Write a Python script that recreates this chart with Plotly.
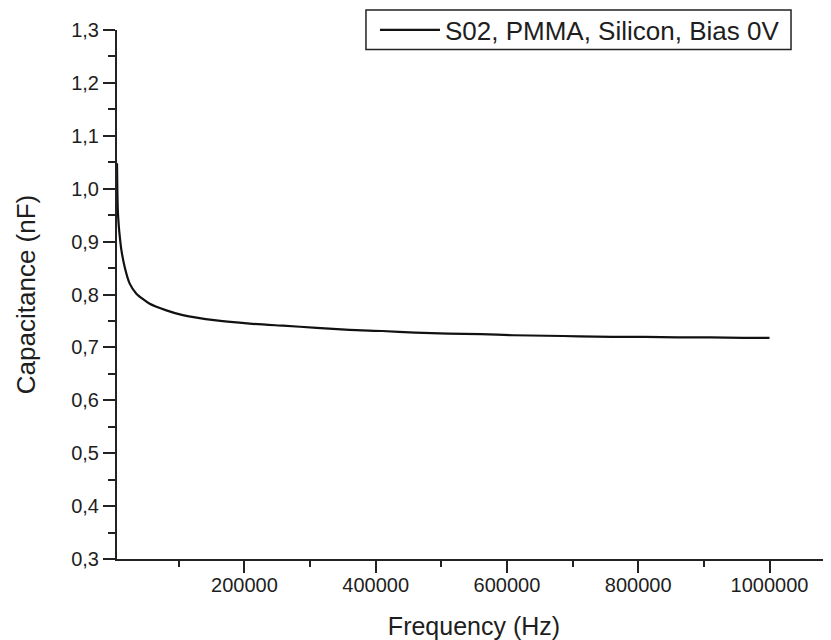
import plotly.graph_objects as go

# Data
freq_hz = [5800, 6300, 7000, 8500, 10000, 12500, 17500, 25000, 35000, 55000,
           81000, 106000, 157000, 208000, 259000, 310000, 360000, 410000,
           460000, 510000, 560000, 610000, 660000, 710000, 760000, 810000,
           860000, 910000, 960000, 1000000]
capacitance_nf = [1.048, 1.000, 0.960, 0.930, 0.910, 0.884, 0.852, 0.821, 0.802, 0.783,
                  0.770, 0.761, 0.751, 0.745, 0.741, 0.737, 0.733, 0.731,
                  0.728, 0.726, 0.725, 0.723, 0.722, 0.721, 0.720, 0.720,
                  0.719, 0.719, 0.718, 0.718]
series_name = "S02, PMMA, Silicon, Bias 0V"
x_title = "Frequency (Hz)"
y_title = "Capacitance (nF)"

FONT = "Liberation Sans, Arial, sans-serif"
INK = "#1e1e1e"
AX = "#222222"

fig = go.Figure()
fig.add_trace(go.Scatter(
    x=freq_hz, y=capacitance_nf, mode="lines", name=series_name,
    line=dict(color="#111111", width=2.2, shape="spline", smoothing=0.6),
))

# legend frame (paper coordinates relative to plot area)
fig.add_shape(type="rect", xref="paper", yref="paper",
              x0=0.3487, x1=0.944, y0=0.963, y1=1.0378,
              line=dict(color=AX, width=1.5), fillcolor="white", layer="below")

fig.update_layout(
    width=823, height=632,
    margin=dict(l=109, r=0, t=22, b=81, autoexpand=False),
    paper_bgcolor="white", plot_bgcolor="rgba(0,0,0,0)",
    separators=",.",
    font=dict(family=FONT, color=INK),
    showlegend=True,
    legend=dict(
        x=0.3613, y=1.0, xanchor="left", yanchor="middle",
        bgcolor="rgba(0,0,0,0)", borderwidth=0,
        font=dict(family=FONT, size=26, color=INK),
        itemwidth=60,
    ),
    xaxis=dict(
        range=[5800, 1093700],
        tick0=0, dtick=200000, tickformat="d",
        ticks="outside", ticklen=12, tickwidth=1.5, tickcolor=AX,
        ticklabelstandoff=-5,
        minor=dict(dtick=100000, tick0=0, ticks="outside", ticklen=6,
                   tickwidth=1.5, tickcolor=AX),
        showline=True, linecolor=AX, linewidth=2,
        showgrid=False, zeroline=False,
        tickfont=dict(family=FONT, size=20, color=INK),
        title=dict(text=x_title, font=dict(family=FONT, size=25, color=INK), standoff=22),
    ),
    yaxis=dict(
        range=[0.3, 1.3],
        tick0=0.3, dtick=0.1, tickformat=".1f",
        ticks="outside", ticklen=12, tickwidth=1.5, tickcolor=AX,
        minor=dict(dtick=0.05, tick0=0.3, ticks="outside", ticklen=7,
                   tickwidth=1.5, tickcolor=AX),
        showline=True, linecolor=AX, linewidth=2,
        showgrid=False, zeroline=False,
        tickfont=dict(family=FONT, size=20, color=INK),
        title=dict(text=y_title, font=dict(family=FONT, size=26, color=INK), standoff=28),
    ),
)

fig.write_html("out.html")
